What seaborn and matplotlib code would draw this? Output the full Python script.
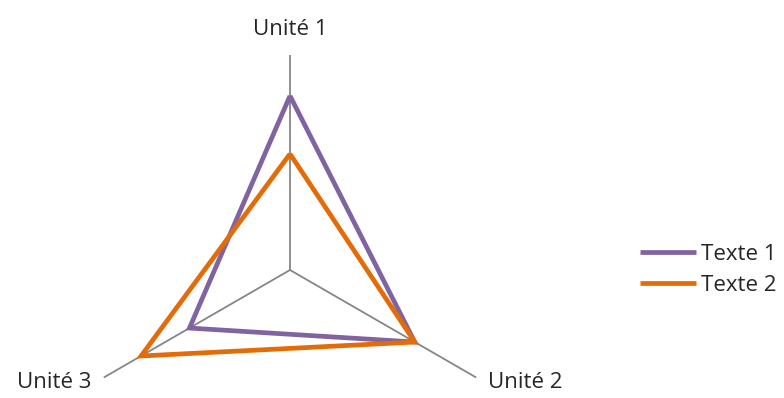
import numpy as np
import pandas as pd
import matplotlib
matplotlib.use("Agg")
import matplotlib.pyplot as plt
import seaborn as sns

categories = ["Unité 1", "Unité 2", "Unité 3"]
series_names = ["Texte 1", "Texte 2"]
texte1 = [4.05, 3.35, 2.7]
texte2 = [2.7, 3.35, 4.0]
colors = ["#8064A2", "#E36C09"]
rmax = 5.0

sns.set_style("white")
plt.rcParams['font.family'] = ['Open Sans', 'DejaVu Sans']

fig = plt.figure(figsize=(7.84, 3.98), dpi=100)
ax = fig.add_axes([75/784, -87/398, 430/784, 430/398], projection='polar')
ax.set_theta_zero_location('N')
ax.set_theta_direction(-1)

angles = np.deg2rad([0, 120, 240])

for name, vals, c in zip(series_names, [texte1, texte2], colors):
    # close the polygon by going back to the first axis at 2*pi
    df = pd.DataFrame({"theta": list(angles) + [2*np.pi],
                       "r": list(vals) + [vals[0]]})
    sns.lineplot(data=df, x="theta", y="r", sort=False, estimator=None, ax=ax,
                 color=c, lw=3.4, label=name, solid_joinstyle='miter',
                 solid_capstyle='butt')

ax.set_ylim(0, rmax)
ax.set_yticks([])
ax.set_xticks(angles)
ax.set_xticklabels([])
ax.xaxis.grid(True, color='#868686', lw=1.3)
ax.spines['polar'].set_visible(False)
ax.set_facecolor('none')
ax.set_xlabel("")
ax.set_ylabel("")

fs = 16
ax.text(0, rmax*1.12, categories[0], ha='center', va='center', fontsize=fs)
ax.text(np.deg2rad(119.5), rmax*1.06, categories[1], ha='left', va='center', fontsize=fs)
ax.text(np.deg2rad(240.5), rmax*1.06, categories[2], ha='right', va='center', fontsize=fs)

handles, labels = ax.get_legend_handles_labels()
ax.legend_.remove()
fig.legend(handles, labels, loc='center left', bbox_to_anchor=(640/784, 128/398),
           frameon=False, fontsize=fs, handlelength=2.5, handletextpad=0.25,
           labelspacing=0.45, borderaxespad=0, borderpad=0)

fig.savefig("out.png", dpi=100)
